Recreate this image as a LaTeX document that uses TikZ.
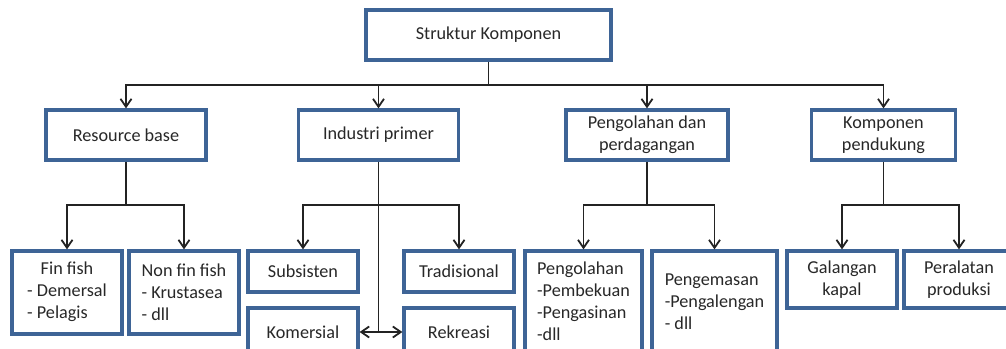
\documentclass[tikz,border=0pt]{standalone}
\usepackage{fontspec}
\setmainfont{Carlito}
\usepackage{tikz}
\usetikzlibrary{arrows.meta}
\definecolor{boxblue}{RGB}{62,100,150}
\definecolor{txtgray}{RGB}{40,40,40}
\definecolor{linegray}{RGB}{35,35,35}
\newcommand{\headc}[2]{\begin{tabular}{@{}l@{}}\multicolumn{1}{@{}c@{}}{#1}\\#2\end{tabular}}
\tikzset{
  kotak/.style={draw=boxblue, line width=3.2pt, fill=white, inner sep=2pt,
    text=txtgray, font=\fontsize{18.2}{22}\selectfont, align=center},
  conn/.style={draw=linegray, line width=1.8pt, ->},
  stem/.style={draw=linegray, line width=1.8pt},
}

\begin{document}
\begin{tikzpicture}[x=1pt, y=-1pt, >={Straight Barb[length=8pt,width=11pt]}]
  \useasboundingbox (0, 0) rectangle (1006, 348);
  \clip (0, 0) rectangle (1006, 348);
  % level 1 and 2
  \node[kotak, minimum width=245, minimum height=50] (root) at (488.5, 35) {Struktur Komponen};
  \node[kotak, minimum width=160, minimum height=50] (rb) at (126, 135) {Resource base};
  \node[kotak, minimum width=160, minimum height=50] (ip) at (378.5, 135) {Industri primer};
  \node[kotak, minimum width=162, minimum height=50] (pp) at (647, 135) {Pengolahan dan\\perdagangan};
  \node[kotak, minimum width=144, minimum height=50] (kp) at (883.5, 135) {Komponen\\pendukung};
  % level 3
  \node[kotak, minimum width=110, minimum height=83] (fin) at (67, 292.5) {\headc{Fin fish}{- Demersal\\- Pelagis}};
  \node[kotak, minimum width=110, minimum height=83, align=left] (nonfin) at (184, 292.5) {Non fin fish\\- Krustasea\\- dll};
  \node[kotak, minimum width=110, minimum height=41] (sub) at (303, 271.5) {Subsisten};
  \node[kotak, minimum width=110, minimum height=41] (trad) at (459, 271.5) {Tradisional};
  \node[kotak, minimum width=110, minimum height=48] (kom) at (303, 332) {Komersial};
  \node[kotak, minimum width=110, minimum height=48] (rek) at (459, 332) {Rekreasi};
  \node[kotak, minimum width=117, minimum height=100, align=left] (olah) at (583.5, 301) {Pengolahan\\-Pembekuan\\-Pengasinan\\-dll};
  \node[kotak, minimum width=125, minimum height=102, align=left] (kemas) at (714.5, 302) {Pengemasan\\-Pengalengan\\- dll};
  \node[kotak, minimum width=110, minimum height=57] (galang) at (842, 279.5) {Galangan\\kapal};
  \node[kotak, minimum width=110, minimum height=57] (alat) at (959, 279.5) {Peralatan\\produksi};
  % buses
  \coordinate (bus0) at (488.5, 85);
  \coordinate (bus1) at (126, 205);
  \coordinate (bus2) at (378.5, 205);
  \coordinate (bus3) at (647, 205);
  \coordinate (bus4) at (883.5, 205);
  \coordinate (ujung) at (378.5, 332);
  % connectors
  \draw[stem] (root) -- (bus0);
  \draw[conn] (bus0) -| (rb);
  \draw[conn] (bus0) -| (ip);
  \draw[conn] (bus0) -| (pp);
  \draw[conn] (bus0) -| (kp);
  \draw[stem] (rb) -- (bus1);
  \draw[conn] (bus1) -| (fin);
  \draw[conn] (bus1) -| (nonfin);
  \draw[stem] (ip) -- (ujung);
  \draw[conn] (bus2) -| (sub);
  \draw[conn] (bus2) -| (trad);
  \draw[conn] (ujung) -- (kom);
  \draw[conn] (ujung) -- (rek);
  \draw[stem] (pp) -- (bus3);
  \draw[conn] (bus3) -| (olah);
  \draw[conn] (bus3) -| (kemas);
  \draw[stem] (kp) -- (bus4);
  \draw[conn] (bus4) -| (galang);
  \draw[conn] (bus4) -| (alat);
\end{tikzpicture}
\end{document}
